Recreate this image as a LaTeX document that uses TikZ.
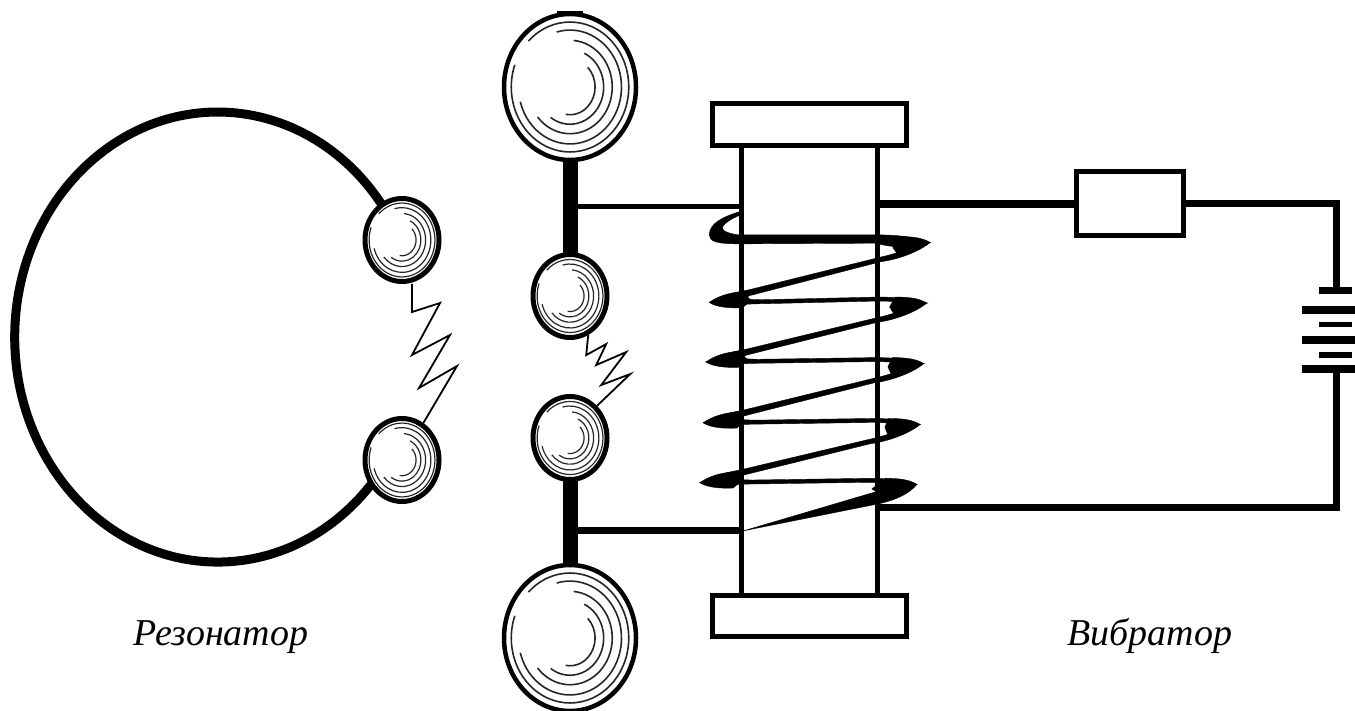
\documentclass[tikz,border=0pt]{standalone}
\usepackage{fontspec}
\setmainfont{Liberation Serif}
\newcommand{\ballrings}[4]{%
  \foreach \r/\a/\b in {.38/45/-100, .51/65/-125, .64/85/-140, .78/105/-165, .89/135/-200}
    \draw[#4] (#1.center) ++({\a}:{\r*#2} and {\r*#3}) arc[start angle=\a, end angle=\b, x radius=\r*#2, y radius=\r*#3];
}
\tikzset{
  bigball/.style = {ellipse, draw, fill=white, line width=0.045cm, inner sep=0pt, minimum width=1.32cm, minimum height=1.46cm},
  smallball/.style = {ellipse, draw, fill=white, line width=0.05cm, inner sep=0pt, minimum width=0.74cm, minimum height=0.83cm},
  bigring/.style = {line width=0.016cm, black!85},
  smallring/.style = {line width=0.012cm, black!85},
  block/.style = {rectangle, draw, line width=0.05cm, inner sep=0pt},
  stem/.style = {line width=0.15cm},
  hoop/.style = {line width=0.09cm},
  wire/.style = {line width=0.07cm},
  thinwire/.style = {line width=0.05cm},
  spring/.style = {line width=0.018cm, line join=miter},
  caption/.style = {font=\itshape\fontsize{10.8}{13}\selectfont, anchor=base, inner sep=0pt},
  coilfill/.style = {fill=black, draw=black, line width=0.004cm}
}
\usetikzlibrary{shapes.geometric}
\begin{document}
\begin{tikzpicture}
  \useasboundingbox (0,0) rectangle (13.55,7.10);
  \coordinate (Ringstart) at (3.84,5.02);
  \coordinate (Feedup) at (7.41,5.03);
  \coordinate (Feeddown) at (7.41,1.80);
  \coordinate (Stemup) at (5.70,5.03);
  \coordinate (Stemdown) at (5.70,1.80);
  \coordinate (Inup) at (8.77,5.06);
  \coordinate (Indown) at (8.77,2.03);
  \coordinate (Corner) at (13.36,5.06);
  \coordinate (Cornerb) at (13.36,2.03);
  \coordinate (Batup) at (13.36,4.19);
  \coordinate (Batdown) at (13.36,3.41);

  % resonator
  \draw[hoop] (Ringstart) arc[start angle=35, end angle=325, x radius=2.03, y radius=2.25];
  \node[smallball] (ResA) at (4.02,4.70) {};
  \node[smallball] (ResB) at (4.02,2.50) {};
  \ballrings{ResA}{0.37}{0.415}{smallring}
  \ballrings{ResB}{0.37}{0.415}{smallring}
  \draw[spring] (ResA.south) ++(0.10,0) -- ++(0,-0.28) -- ++(0.28,0.09) -- ++(-0.28,-0.52) -- ++(0.38,0.20)
    -- ++(-0.31,-0.53) -- ++(0.38,0.22) -- (ResB.60);

  % vibrator balls
  \draw[stem] (5.70,6.23) -- (5.70,4.14);
  \draw[stem] (5.70,2.72) -- (5.70,0.72);
  \node[bigball] (TopBall) at (5.70,6.23) {};
  \node[bigball] (BotBall) at (5.70,0.72) {};
  \node[smallball] (MidA) at (5.70,4.14) {};
  \node[smallball] (MidB) at (5.70,2.72) {};
  \ballrings{TopBall}{0.66}{0.73}{bigring}
  \ballrings{BotBall}{0.66}{0.73}{bigring}
  \ballrings{MidA}{0.37}{0.41}{smallring}
  \ballrings{MidB}{0.37}{0.41}{smallring}
  \draw[line width=0.04cm] (TopBall.north) ++(-0.13,-0.01) -- ++(0.26,0);
  \draw[spring] (MidA.-65) -- ++(-0.02,-0.20) -- ++(0.20,0.11) -- ++(-0.10,-0.21) -- ++(0.30,0.13)
    -- ++(-0.25,-0.33) -- ++(0.29,0.11) -- (MidB.50);

  % core and caps
  \node[block, minimum width=1.36cm, minimum height=4.50cm] (Core) at (8.09,3.40) {};
  \node[block, fill=white, minimum width=1.94cm, minimum height=0.42cm] (CapA) at (8.09,5.85) {};
  \node[block, fill=white, minimum width=1.94cm, minimum height=0.41cm] (CapB) at (8.09,0.945) {};

  % winding
  \begin{scope}[shift={(6.80,5.30)}, x=0.00333cm, y=-0.00333cm]
    \fill[coilfill] (183,94) .. controls (130,110) and (88,130) .. (88,165)
      .. controls (88,185) and (110,192) .. (180,192) -- (590,190)
      .. controls (640,205) and (700,205) .. (752,188)
      .. controls (700,170) and (650,165) .. (590,165) -- (175,165)
      .. controls (140,160) and (115,150) .. (135,132) .. controls (150,118) and (170,110) .. (183,105) -- cycle;
    \foreach \lx/\ly/\rx/\ry in {88/368/742/370, 78/547/733/552, 70/730/722/735, 60/910/712/915} {
      \fill[coilfill] (\lx,\ly) .. controls (\lx+60,\ly-20) and (\lx+100,\ly-8) .. (\lx+160,\ly-8)
        -- (\rx-150,\ry-18) .. controls (\rx-90,\ry-18) and (\rx-40,\ry-14) .. (\rx,\ry)
        .. controls (\rx-40,\ry) and (\rx-90,\ry-6) .. (\rx-150,\ry-6)
        -- (\lx+160,\ly+4) .. controls (\lx+100,\ly+4) and (\lx+50,\ly+14) .. (\lx,\ly) -- cycle;
    }
    \foreach \rx/\ry/\lx/\ly in {752/188/88/368, 742/370/78/547, 733/552/70/730, 722/735/60/910} {
      \fill[coilfill] (\rx,\ry) .. controls (\rx-50,\ry+14) and (\rx-110,\ry+36) .. (\rx-150,\ry+44)
        -- (\lx+120,\ly-38) .. controls (\lx+70,\ly-30) and (\lx+30,\ly-14) .. (\lx,\ly)
        .. controls (\lx+40,\ly+20) and (\lx+90,\ly+2) .. (\lx+120,\ly-20)
        -- (\rx-150,\ry+58) .. controls (\rx-90,\ry+50) and (\rx-30,\ry+25) .. (\rx,\ry) -- cycle;
    }
    \foreach \rx/\ry/\tip/\dn in {752/188/112/16, 742/370/112/12, 733/552/108/10, 722/735/106/8, 712/915/135/14} {
      \fill[coilfill] (\rx,\ry) .. controls (\rx-25,\ry-16) and (\rx-60,\ry-18) .. (\rx-95,\ry-18)
        -- (\rx-\tip,\ry+\dn) -- (\rx-95,\ry+38) .. controls (\rx-60,\ry+30) and (\rx-20,\ry+14) .. (\rx,\ry) -- cycle;
    }
    \foreach \lx/\ly in {88/368, 78/547, 70/730, 60/910} {
      \fill[coilfill] (\lx,\ly) .. controls (\lx+25,\ly-18) and (\lx+60,\ly-30) .. (\lx+100,\ly-32)
        -- (\lx+125,\ly-6) -- (\lx+100,\ly+16) .. controls (\lx+60,\ly+18) and (\lx+20,\ly+14) .. (\lx,\ly) -- cycle;
    }
    \fill[coilfill] (712,915) .. controls (660,925) and (620,935) .. (590,937)
      -- (190,1055) -- (590,975) .. controls (640,965) and (690,945) .. (712,915) -- cycle;
  \end{scope}

  % circuit
  \node[block, minimum width=1.07cm, minimum height=0.64cm] (Res) at (11.295,5.06) {};
  \draw[thinwire] (Stemup) -- (Feedup);
  \draw[wire] (Stemdown) -- (Feeddown);
  \draw[line width=0.08cm] (Inup) -- (Res.west);
  \draw[wire, line join=miter] (Res.east) -- (Corner) -- (Batup);
  \draw[wire, line join=miter] (Batdown) -- (Cornerb) -- (Indown);

  % battery
  \draw[line width=0.07cm] (13.19,4.19) -- (13.52,4.19);
  \draw[line width=0.08cm] (13.02,4.00) -- (13.55,4.00);
  \draw[line width=0.05cm] (13.19,3.85) -- (13.52,3.85);
  \draw[line width=0.08cm] (13.02,3.70) -- (13.55,3.70);
  \draw[line width=0.05cm] (13.19,3.55) -- (13.52,3.55);
  \draw[line width=0.08cm] (13.02,3.41) -- (13.55,3.41);

  \node[caption] (LabelRes) at (2.21,0.65) {Резонатор};
  \node[caption] (LabelVib) at (11.50,0.65) {Вибратор};
\end{tikzpicture}
\end{document}
